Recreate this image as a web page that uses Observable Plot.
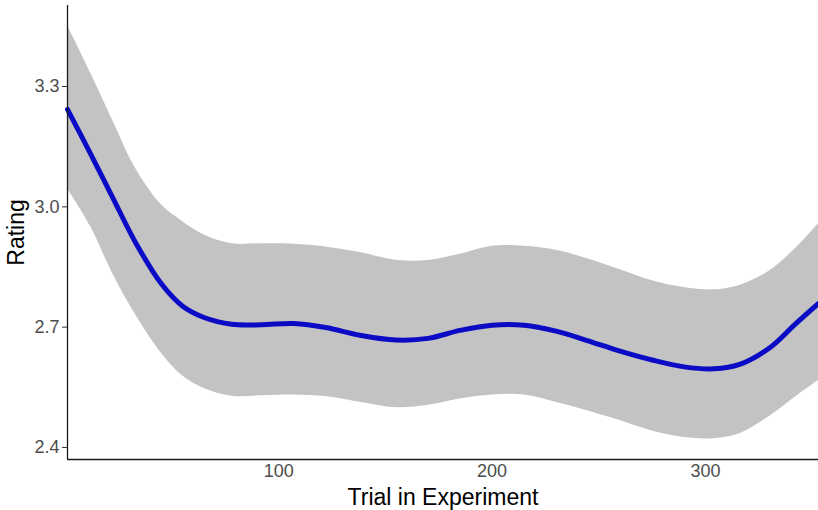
<!DOCTYPE html>
<html>
<head>
<meta charset="utf-8">
<script src="https://cdn.jsdelivr.net/npm/d3@7"></script>
<script src="https://cdn.jsdelivr.net/npm/@observablehq/plot@0.6"></script>
<style>
  html, body { margin: 0; padding: 0; background: #fff; }
  #chart svg { display: block; }
  #chart g[aria-label$="tick label"],
  #chart g[aria-label$="tick label"] text { font-size: 18px !important; }
</style>
</head>
<body>
<div id="chart"></div>
<script>
// Trial in experiment (x)
const trial = [1, 12, 22, 33, 45, 55, 65, 78, 92, 107, 122, 138, 155, 170, 185, 200, 215, 230, 245, 260, 275, 290, 304, 316, 330, 342, 353];
// Smoothed mean rating
const rating = [3.243, 3.13, 3.025, 2.91, 2.808, 2.752, 2.724, 2.707, 2.706, 2.709, 2.699, 2.680, 2.668, 2.672, 2.692, 2.705, 2.705, 2.690, 2.666, 2.640, 2.618, 2.601, 2.596, 2.607, 2.648, 2.707, 2.759];
// Confidence band
const upper = [3.452, 3.332, 3.218, 3.095, 3.005, 2.963, 2.930, 2.908, 2.908, 2.907, 2.900, 2.886, 2.867, 2.866, 2.882, 2.902, 2.902, 2.892, 2.870, 2.843, 2.816, 2.799, 2.793, 2.804, 2.840, 2.895, 2.958];
const lower = [3.046, 2.949, 2.835, 2.730, 2.635, 2.578, 2.547, 2.528, 2.529, 2.531, 2.527, 2.513, 2.499, 2.505, 2.521, 2.531, 2.531, 2.513, 2.491, 2.467, 2.441, 2.425, 2.422, 2.434, 2.477, 2.525, 2.567];
// Axis
const xDomain = [1, 353];
const yDomain = [2.370, 3.502];
const xTicks = [100, 200, 300];
const yTicks = [2.4, 2.7, 3.0, 3.3];
const xTitle = "Trial in Experiment";
const yTitle = "Rating";

const data = trial.map((t, i) => ({trial: t, rating: rating[i], lo: lower[i], hi: upper[i]}));

const chart = Plot.plot({
  width: 818,
  height: 510,
  marginLeft: 67,
  marginRight: 0,
  marginTop: 5,
  marginBottom: 51,
  style: {fontFamily: "'Liberation Sans', Arial, sans-serif", fontSize: "18px", background: "#fff"},
  x: {domain: xDomain},
  y: {domain: yDomain},
  marks: [
    Plot.areaY(data, {x: "trial", y1: "lo", y2: "hi", fill: "#c3c3c3", curve: "catmull-rom"}),
    Plot.lineY(data, {x: "trial", y: "rating", stroke: "#0b0bc6", strokeWidth: 5, curve: "catmull-rom"}),
    Plot.axisX({ticks: xTicks, tickSize: 0, tickPadding: 5, fill: "#4d4d4d", label: null, fontSize: 18}),
    Plot.axisY({ticks: yTicks, tickSize: 5, tickPadding: 3, tickFormat: d3.format(".1f"), fill: "#4d4d4d", stroke: "#333", label: null, fontSize: 18}),
    Plot.ruleX([xDomain[0]], {stroke: "#1a1a1a", strokeWidth: 1.3}),
    Plot.ruleY([yDomain[0]], {stroke: "#1a1a1a", strokeWidth: 1.3}),
    Plot.text([xTitle], {frameAnchor: "bottom", dy: 38.5, lineAnchor: "middle", fontSize: 23, fill: "#000", text: d => d}),
    Plot.text([yTitle], {frameAnchor: "left", dx: -50.5, rotate: -90, lineAnchor: "middle", textAnchor: "middle", fontSize: 23, fill: "#000", text: d => d})
  ]
});
document.getElementById("chart").appendChild(chart);
</script>
</body>
</html>
